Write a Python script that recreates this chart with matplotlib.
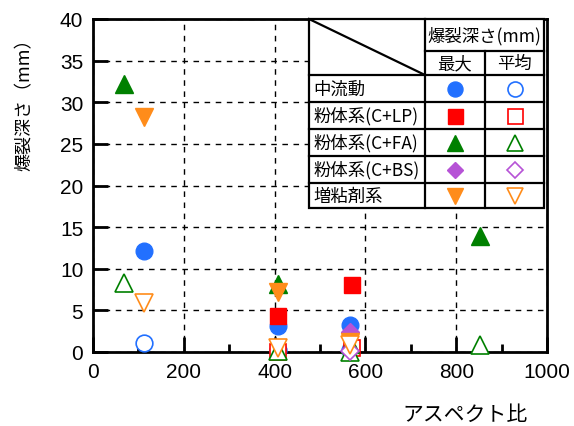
import numpy as np
import matplotlib.pyplot as plt

plt.rcParams['font.family'] = ['Liberation Sans', 'Noto Sans CJK JP', 'DejaVu Sans']
JP = ['Noto Sans CJK JP', 'DejaVu Sans']

# series: aspect ratio and spalling depth (max / mean), mm
names = ["中流動", "粉体系(C+LP)", "粉体系(C+FA)", "粉体系(C+BS)", "増粘剤系"]

x_sc = [112, 408, 566]
max_sc = [12.1, 3.1, 3.2]
avg_sc = [1.1, 0.2, 0.3]

x_lp = [408, 570]
max_lp = [4.3, 8.0]
avg_lp = [0.0, 0.5]

x_fa = [68, 408, 566, 852]
max_fa = [32.2, 8.2, 1.0, 13.9]
avg_fa = [8.3, 0.1, 0.0, 0.9]

x_bs = [566]
max_bs = [2.4]
avg_bs = [0.1]

x_vm = [112, 408, 566]
max_vm = [28.2, 7.2, 1.2]
avg_vm = [5.9, 0.5, 0.8]

xs = [x_sc, x_lp, x_fa, x_bs, x_vm]
maxs = [max_sc, max_lp, max_fa, max_bs, max_vm]
avgs = [avg_sc, avg_lp, avg_fa, avg_bs, avg_vm]
colors = ["#2270ff", "#ff0000", "#008000", "#b653d6", "#ff8c1a"]
markers = ["o", "s", "^", "D", "v"]
sizes = [12, 12, 13, 9.5, 13]

fig = plt.figure(figsize=(5.74, 4.27), dpi=100)
ax = fig.add_axes([93/574, 74/427, 454/574, 333/427])

for x, mx, av, c, m, s in zip(xs, maxs, avgs, colors, markers, sizes):
    ax.plot(x, mx, ls="none", marker=m, ms=s, color=c, mec=c, clip_on=False, zorder=3)
    ax.plot(x, av, ls="none", marker=m, ms=s, mfc="white", mec=c, mew=1.2,
            clip_on=False, zorder=3)

ax.set_xlim(0, 1000)
ax.set_ylim(0, 40)
ax.set_xticks(np.arange(0, 1001, 200))
ax.set_xticks(np.arange(100, 1000, 200), minor=True)
ax.set_yticks(np.arange(0, 41, 5))
ax.tick_params(which="major", direction="in", length=11, width=2, labelsize=15, pad=7)
ax.tick_params(which="minor", direction="in", length=6, width=2)
ax.grid(True, which="major", color="black", ls=(0, (4, 4)), lw=1)
for sp in ax.spines.values():
    sp.set_linewidth(2)

fig.text(465/574, 1 - 415/427, "アスペクト比", family=JP, fontsize=15, ha="center", va="center")
fig.text(25/574, 1 - 100/427, "爆裂深さ（mm）", family=JP, fontsize=13, rotation=90,
         ha="center", va="center")

# table-style legend drawn in axes coordinates
def ax_x(px):
    return (px - 93) / 454

def ax_y(py):
    return (353 - py) / 333

T = ax.transAxes
xl, xc1, xc2, xr = ax_x(309), ax_x(425), ax_x(485), ax_x(544)
rows_px = [76, 103, 130, 157, 184, 209]
yt, yh = ax_y(20), ax_y(52)
ax.add_patch(plt.Rectangle((xl, ax_y(209)), xr - xl, yt - ax_y(209), transform=T,
                           facecolor="white", edgecolor="black", lw=1.6, zorder=5, clip_on=False))
lk = dict(transform=T, color="black", lw=1.6, zorder=6, clip_on=False)
ax.plot([xl, xc1], [yt, ax_y(76)], **lk)
ax.plot([xc1, xc1], [yt, ax_y(209)], **lk)
ax.plot([xc2, xc2], [yh, ax_y(209)], **lk)
ax.plot([xc1, xr], [yh, yh], **lk)
for py in rows_px[:-1]:
    ax.plot([xl, xr], [ax_y(py), ax_y(py)], **lk)

ax.text((xc1 + xr) / 2, ax_y(36), "爆裂深さ(mm)", family=JP, fontsize=12.5, transform=T,
        ha="center", va="center", zorder=7)
ax.text((xc1 + xc2) / 2, ax_y(64), "最大", family=JP, fontsize=12.5, transform=T,
        ha="center", va="center", zorder=7)
ax.text((xc2 + xr) / 2, ax_y(64), "平均", family=JP, fontsize=12.5, transform=T,
        ha="center", va="center", zorder=7)
for i, (name, c, m, s) in enumerate(zip(names, colors, markers, sizes)):
    yc = ax_y((rows_px[i] + rows_px[i + 1]) / 2)
    ax.text(ax_x(313), yc, name, family=JP, fontsize=12.5, transform=T,
            ha="left", va="center", zorder=7)
    ax.plot((xc1 + xc2) / 2, yc, marker=m, ms=s * 0.9, color=c, transform=T,
            zorder=7, clip_on=False)
    ax.plot((xc2 + xr) / 2, yc, marker=m, ms=s * 0.9, mfc="white", mec=c, mew=1.2,
            transform=T, zorder=7, clip_on=False)

fig.savefig("out.png", dpi=100)
